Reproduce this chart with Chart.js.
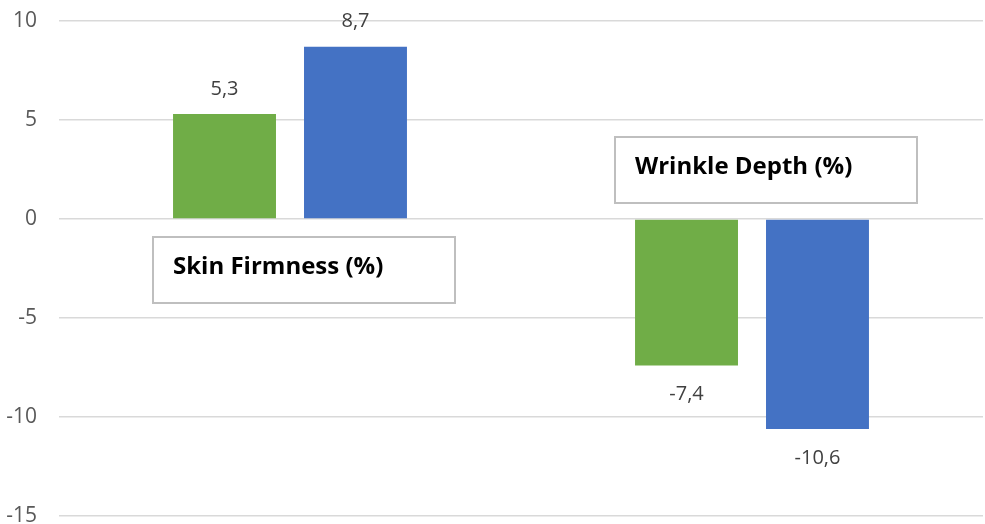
<!DOCTYPE html>
<html>
<head>
<meta charset="utf-8">
<script src="https://cdn.jsdelivr.net/npm/chart.js@4/dist/chart.umd.min.js"></script>
<style>
html,body{margin:0;padding:0;background:#fff;}
#wrap{width:985px;height:524px;position:relative;}
</style>
</head>
<body>
<div id="wrap"><canvas id="c" width="985" height="524"></canvas></div>
<script>
const categories = ["Skin Firmness (%)", "Wrinkle Depth (%)"];
const seriesGreen = [5.3, -7.4];
const seriesBlue = [8.7, -10.6];
const yTicks = [10, 5, 0, -5, -10, -15];

const fmt = v => String(v).replace('.', ',');

const labelPlugin = {
  id: 'labels',
  afterDatasetsDraw(chart) {
    const ctx = chart.ctx;
    ctx.save();
    ctx.font = '20px "Open Sans"';
    ctx.fillStyle = '#404040';
    ctx.textAlign = 'center';
    ctx.textBaseline = 'middle';
    chart.data.datasets.forEach((ds, di) => {
      const meta = chart.getDatasetMeta(di);
      meta.data.forEach((bar, i) => {
        const v = ds.data[i];
        const y = v >= 0 ? bar.y - 25 : bar.y + 29;
        ctx.fillText(fmt(v), bar.x, y);
      });
    });
    // category boxes
    const xs = chart.scales.x, ys = chart.scales.y;
    const zero = ys.getPixelForValue(0);
    categories.forEach((cat, i) => {
      const cx = xs.getPixelForValue(i) + 14;
      const w = 302, h = 66;
      const positive = seriesBlue[i] >= 0;
      const top = positive ? zero + 18 : zero - 82;
      const left = cx - w / 2;
      ctx.fillStyle = '#ffffff';
      ctx.fillRect(left, top, w, h);
      ctx.strokeStyle = '#bfbfbf';
      ctx.lineWidth = 2;
      ctx.strokeRect(left, top, w, h);
      ctx.fillStyle = '#000000';
      ctx.font = 'bold 24px "Open Sans"';
      ctx.textAlign = 'left';
      ctx.textBaseline = 'middle';
      ctx.fillText(cat, left + 20, top + h / 2 - 3);
    });
    ctx.restore();
  }
};

new Chart(document.getElementById('c'), {
  type: 'bar',
  data: {
    labels: categories,
    datasets: [
      { data: seriesGreen, backgroundColor: '#70ad47', barPercentage: 0.786, categoryPercentage: 0.567 },
      { data: seriesBlue, backgroundColor: '#4472c4', barPercentage: 0.786, categoryPercentage: 0.567 }
    ]
  },
  options: {
    responsive: false,
    animation: false,
    layout: { padding: { top: 21, bottom: 8, left: 0, right: 2 } },
    plugins: { legend: { display: false }, tooltip: { enabled: false } },
    scales: {
      x: { display: false },
      y: {
        min: -15, max: 10,
        afterBuildTicks: s => { s.ticks = yTicks.map(v => ({ value: v })); },
        afterFit: s => { s.width = 59; s.paddingTop = 0; s.paddingBottom = 0; },
        border: { display: false },
        grid: { color: '#d9d9d9', lineWidth: 1.5, drawTicks: false },
        ticks: { padding: 22, color: '#595959', font: { family: 'Open Sans', size: 21 } }
      }
    }
  },
  plugins: [labelPlugin]
});
</script>
</body>
</html>
